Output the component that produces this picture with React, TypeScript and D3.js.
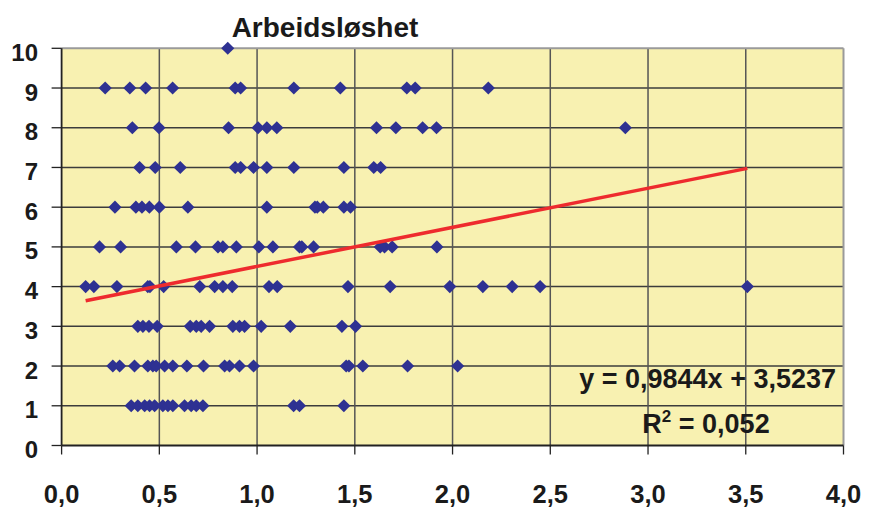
import React from "react";
import * as d3 from "d3";

// x-values of the observations, grouped by their y level
const yLevels = [10, 9, 8, 7, 6, 5, 4, 3, 2, 1];
const xAt10 = [0.85];
const xAt9 = [0.223, 0.349, 0.43, 0.568, 0.888, 0.916, 1.188, 1.426, 1.766, 1.809, 2.183];
const xAt8 = [0.362, 0.498, 0.854, 1.005, 1.05, 1.101, 1.611, 1.71, 1.847, 1.918, 2.884];
const xAt7 = [0.399, 0.479, 0.607, 0.888, 0.916, 0.982, 1.05, 1.188, 1.444, 1.597, 1.632];
const xAt6 = [0.273, 0.38, 0.411, 0.449, 0.5, 0.646, 1.05, 1.296, 1.308, 1.339, 1.444, 1.478];
const xAt5 = [0.194, 0.302, 0.587, 0.685, 0.8, 0.825, 0.894, 1.009, 1.081, 1.217, 1.229, 1.289, 1.63, 1.652, 1.691, 1.92];
const xAt4 = [0.123, 0.165, 0.283, 0.441, 0.452, 0.522, 0.707, 0.783, 0.825, 0.873, 1.061, 1.103, 1.465, 1.681, 1.986, 2.155, 2.305, 2.448, 3.508];
const xAt3 = [0.39, 0.416, 0.447, 0.489, 0.658, 0.689, 0.714, 0.757, 0.876, 0.91, 0.936, 1.021, 1.17, 1.434, 1.504];
const xAt2 = [0.262, 0.297, 0.373, 0.441, 0.467, 0.484, 0.527, 0.569, 0.641, 0.726, 0.834, 0.859, 0.91, 0.982, 1.456, 1.47, 1.541, 1.77, 2.026];
const xAt1 = [0.356, 0.39, 0.425, 0.45, 0.476, 0.518, 0.544, 0.569, 0.629, 0.663, 0.689, 0.723, 1.187, 1.217, 1.444];
const xGroups = [xAt10, xAt9, xAt8, xAt7, xAt6, xAt5, xAt4, xAt3, xAt2, xAt1];

const xTicks = [0, 0.5, 1, 1.5, 2, 2.5, 3, 3.5, 4];
const xTickLabels = ["0,0", "0,5", "1,0", "1,5", "2,0", "2,5", "3,0", "3,5", "4,0"];
const yTicks = [0, 1, 2, 3, 4, 5, 6, 7, 8, 9, 10];
const yTickLabels = ["0", "1", "2", "3", "4", "5", "6", "7", "8", "9", "10"];

const title = "Arbeidsløshet";
const trendSlope = 0.9844;
const trendIntercept = 3.5237;
const equationLabel = "y = 0,9844x + 3,5237";
const r2Value = "0,052";

export default function App() {
  const W = 869, H = 512;
  const left = 61.6, right = 843.5, top = 48.3, bottom = 445.5;
  const x = d3.scaleLinear().domain([0, 4]).range([left, right]);
  const y = d3.scaleLinear().domain([0, 10]).range([bottom, top]);

  const points: [number, number][] = [];
  xGroups.forEach((g, i) => g.forEach((v) => points.push([v, yLevels[i]])));

  const xs = points.map((p) => p[0]);
  const xMin = d3.min(xs) as number;
  const xMax = d3.max(xs) as number;
  const trend = d3.line<number>()
    .x((v) => x(v))
    .y((v) => y(trendSlope * v + trendIntercept))([xMin, xMax]);

  const diamond = d3.symbol().type(d3.symbolSquare).size(86)() as string;
  const font = "'Liberation Sans', Arial, sans-serif";

  return (
    <svg width={W} height={H} style={{ position: "absolute", left: 0, top: 0, background: "#fff" }}>
      <rect x={left} y={top} width={right - left} height={bottom - top} fill="#F8F1B1" />
      {yTicks.filter((t) => t > 0 && t < 10).map((t) => (
        <line key={"hy" + t} x1={left} x2={right} y1={y(t)} y2={y(t)} stroke="#3c3c3c" strokeWidth={1.5} />
      ))}
      {xTicks.filter((t) => t > 0 && t < 4).map((t) => (
        <line key={"vx" + t} x1={x(t)} x2={x(t)} y1={top} y2={bottom} stroke="#555" strokeWidth={1.5} />
      ))}
      {/* plot border */}
      <line x1={left} x2={right} y1={top} y2={top} stroke="#9a9a9a" strokeWidth={2} />
      <line x1={right} x2={right} y1={top} y2={bottom} stroke="#9a9a9a" strokeWidth={2} />
      <line x1={left} x2={right} y1={bottom} y2={bottom} stroke="#222" strokeWidth={1.8} />
      <line x1={left} x2={left} y1={top} y2={bottom} stroke="#222" strokeWidth={1.8} />
      {/* ticks */}
      {yTicks.map((t) => (
        <line key={"ty" + t} x1={left - 10} x2={left} y1={y(t)} y2={y(t)} stroke="#222" strokeWidth={1.3} />
      ))}
      {xTicks.map((t) => (
        <line key={"tx" + t} x1={x(t)} x2={x(t)} y1={bottom} y2={bottom + 9} stroke="#222" strokeWidth={1.3} />
      ))}
      {/* tick labels */}
      {yTicks.map((t, i) => (
        <text key={"ly" + t} x={38} y={y(t) + 12.5} textAnchor="end" fontFamily={font} fontWeight="bold" fontSize={24} fill="#1a1a1a">
          {yTickLabels[i]}
        </text>
      ))}
      {xTicks.map((t, i) => (
        <text key={"lx" + t} x={x(t)} y={503} textAnchor="middle" fontFamily={font} fontWeight="bold" fontSize={25.5} fill="#1a1a1a">
          {xTickLabels[i]}
        </text>
      ))}
      {/* points */}
      {points.map((p, i) => (
        <path key={"p" + i} d={diamond} transform={`translate(${x(p[0])},${y(p[1])}) rotate(45)`} fill="#2E3192" />
      ))}
      {/* trend line */}
      <path d={trend as string} fill="none" stroke="#EE2B2E" strokeWidth={3.5} />
      {/* title */}
      <text x={325} y={36.5} textAnchor="middle" fontFamily={font} fontWeight="bold" fontSize={28} fill="#1a1a1a">
        {title}
      </text>
      {/* equation */}
      <text x={836} y={388} textAnchor="end" fontFamily={font} fontWeight="bold" fontSize={27} fill="#1a1a1a">
        {equationLabel}
      </text>
      <text x={706} y={433} textAnchor="middle" fontFamily={font} fontWeight="bold" fontSize={27} fill="#1a1a1a">
        R<tspan dy={-11} fontSize={17}>2</tspan><tspan dy={11}>{" = " + r2Value}</tspan>
      </text>
    </svg>
  );
}
